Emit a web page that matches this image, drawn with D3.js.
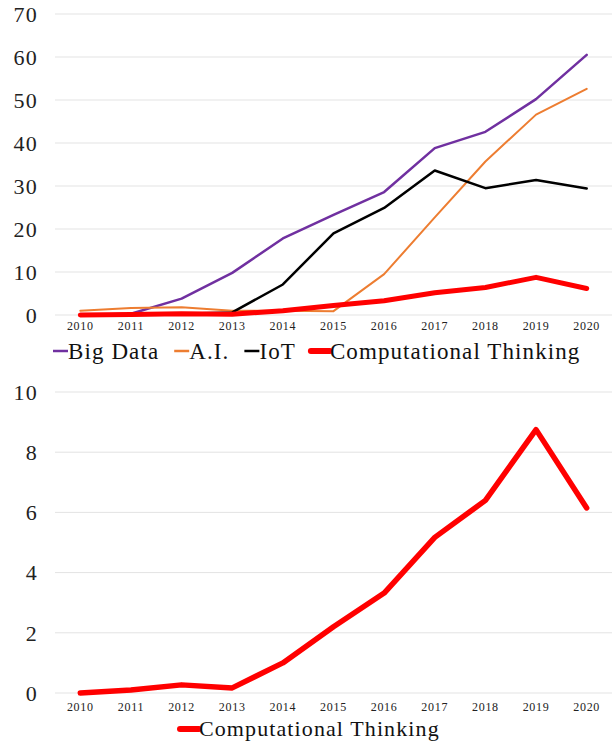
<!DOCTYPE html>
<html><head><meta charset="utf-8">
<script src="https://cdn.jsdelivr.net/npm/d3@7"></script>
<style>body{margin:0;background:#fff}svg{display:block}</style>
</head><body>
<script>
const years = ["2010","2011","2012","2013","2014","2015","2016","2017","2018","2019","2020"];
const bigData = [0, 0.3, 3.8, 9.8, 17.8, 23.3, 28.6, 38.8, 42.6, 50.2, 60.5];
const ai = [1.0, 1.6, 1.8, 1.0, 1.0, 0.9, 9.5, 22.7, 35.7, 46.6, 52.6];
const iot = [0, 0, 0.3, 0.6, 7.1, 19.0, 24.9, 33.6, 29.5, 31.4, 29.4];
const ct = [0, 0.1, 0.27, 0.17, 1.0, 2.2, 3.32, 5.17, 6.4, 8.75, 6.15];
const topTicks = [0,10,20,30,40,50,60,70];
const bottomTicks = [0,2,4,6,8,10];

const W = 612, H = 742;
const svg = d3.select("body").append("svg").attr("width", W).attr("height", H);
const FONT = "'Liberation Serif', 'Times New Roman', serif";

const x = d3.scalePoint().domain(years).range([55, 612]).padding(0.5);

function panel(yRange, domain, ticks, series, yearY) {
  const y = d3.scaleLinear().domain(domain).range(yRange);
  const g = svg.append("g");
  g.append("g").selectAll("line").data(ticks).join("line")
    .attr("x1", 55).attr("x2", 612)
    .attr("y1", d => y(d)).attr("y2", d => y(d))
    .attr("stroke", "#e3e3e3").attr("stroke-width", 1);
  g.append("g").selectAll("text").data(ticks).join("text")
    .attr("x", 38).attr("y", d => y(d)).attr("dy", "0.35em")
    .attr("text-anchor", "end")
    .attr("font-family", FONT).attr("font-size", 22).attr("letter-spacing", 1.2)
    .attr("fill", "#222").text(d => d);
  g.append("g").selectAll("text").data(years).join("text")
    .attr("x", d => x(d)).attr("y", yearY).attr("dy", "0.35em")
    .attr("text-anchor", "middle")
    .attr("font-family", FONT).attr("font-size", 12).attr("letter-spacing", 0.7)
    .attr("fill", "#222").text(d => d);
  const line = d3.line().x((d, i) => x(years[i])).y(d => y(d));
  series.forEach(s => {
    g.append("path").datum(s.values).attr("d", line)
      .attr("fill", "none").attr("stroke", s.color).attr("stroke-width", s.width)
      .attr("stroke-linejoin", "round").attr("stroke-linecap", "round");
  });
  return y;
}

const topSeries = [
  {name: "Big Data", values: bigData, color: "#7030A0", width: 2.5},
  {name: "A.I.", values: ai, color: "#ED7D31", width: 2},
  {name: "IoT", values: iot, color: "#000000", width: 2.5},
  {name: "Computational Thinking", values: ct, color: "#FF0000", width: 5}
];
panel([315, 14], [0, 70], topTicks, topSeries, 326);

const botSeries = [{name: "Computational Thinking", values: ct, color: "#FF0000", width: 5.5}];
panel([693, 392], [0, 10], bottomTicks, botSeries, 707);

// legends
function legend(items, x0, yc, gap, fs) {
  let cx = x0;
  items.forEach(it => {
    const lw = it.width >= 5 ? 19 : 15;
    svg.append("line").attr("x1", cx).attr("x2", cx + lw).attr("y1", yc).attr("y2", yc)
      .attr("stroke", it.color).attr("stroke-width", it.width >= 5 ? 6 : 2.5)
      .attr("stroke-linecap", it.width >= 5 ? "round" : "butt");
    const t = svg.append("text").attr("x", cx + lw).attr("y", yc).attr("dy", "0.33em")
      .attr("font-family", FONT).attr("font-size", fs).attr("letter-spacing", 1.1)
      .attr("fill", "#111").text(it.name);
    cx += lw + t.node().getComputedTextLength() + gap;
  });
}
legend(topSeries, 53, 351, 15, 23);
legend(botSeries, 180, 729, 0, 22);
</script>
</body></html>
